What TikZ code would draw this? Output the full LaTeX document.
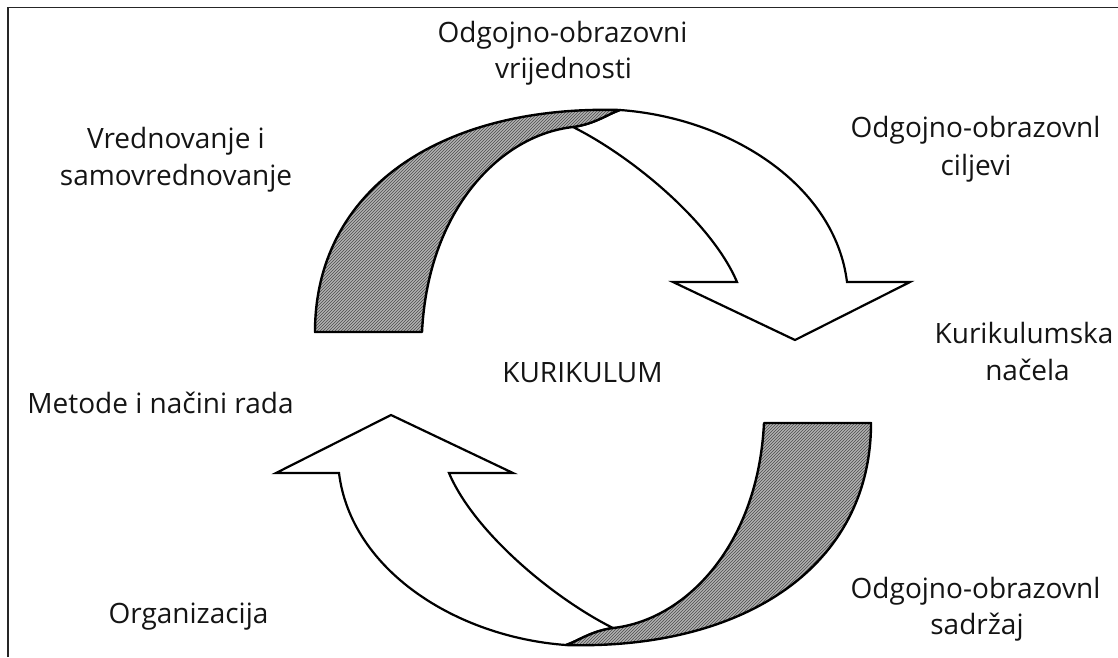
\documentclass[tikz,border=0pt]{standalone}
\usepackage{fontspec}
\setmainfont{Open Sans}
\usetikzlibrary{patterns}
\newcommand{\kurarrow}{%
  \path[ribbon] (620,110) .. controls (730,118) and (835,185) .. (847,282)
     -- (910,282) -- (795,340) -- (673,282) -- (737,282)
     .. controls (712,223) and (633,157) .. (573,127)
     .. controls (595,124) and (608,114) .. (620,110) -- cycle;
  \path[band] (315,332) .. controls (315,190) and (440,105) .. (620,110)
     .. controls (608,114) and (595,124) .. (573,127)
     .. controls (500,135) and (428,210) .. (422,332) -- cycle;
}
\begin{document}
\begin{tikzpicture}[x=1pt,y=-1pt,
  lbl/.style={anchor=base, inner sep=0pt, font=\fontsize{28}{37}\selectfont, text=black!92},
  band/.style={draw=black, line width=2.4pt, line join=round, preaction={fill=black!30}, pattern=north east lines, pattern color=black!70},
  ribbon/.style={draw=black, line width=2.2pt, line join=miter, fill=white},
  frame/.style={draw=black!85, line width=1.5pt}]
\useasboundingbox (0,0) rectangle (1118,657);
\draw[frame] (8,657) -- (8,7.5) -- (1118,7.5);
% upper curved arrow
\kurarrow
% lower curved arrow (same shape turned half round)
\begin{scope}[rotate around={180:(593,377.5)}]
\kurarrow
\end{scope}
% labels
\node[lbl] (valA) at (562.5,42) {Odgojno-obrazovni};
\node[lbl] (valB) at (563.5,78) {vrijednosti};
\node[lbl] (evalA) at (176,148) {Vrednovanje i};
\node[lbl] (evalB) at (176,185) {samovrednovanje};
\node[lbl] (goalA) at (975.5,137) {Odgojno-obrazovnl};
\node[lbl] (goalB) at (976,175) {ciljevi};
\node[lbl] (prinA) at (1024,343) {Kurikulumska};
\node[lbl] (prinB) at (1027.5,380) {načela};
\node[lbl] (cur) at (582.5,382) {KURIKULUM};
\node[lbl] (meth) at (160.5,413) {Metode i načini rada};
\node[lbl] (org) at (188.5,623) {Organizacija};
\node[lbl] (contA) at (975.5,598) {Odgojno-obrazovnl};
\node[lbl] (contB) at (977,634) {sadržaj};
\end{tikzpicture}
\end{document}
